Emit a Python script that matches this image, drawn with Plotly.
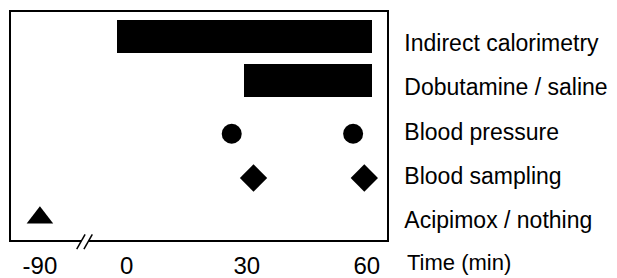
import plotly.graph_objects as go

# ---------------- data ----------------
categories = ["Indirect calorimetry", "Dobutamine / saline", "Blood pressure",
              "Blood sampling", "Acipimox / nothing"]
calorimetry_span = [-2.5, 61.25]      # start, end (min)
dobutamine_span = [29.25, 61.25]      # start, end (min)
blood_pressure_times = [26.25, 56.6]  # min
blood_sampling_times = [31.7, 59.4]   # min
acipimox_times = [-90]                # min
tick_values = [-90, 0, 30, 60]
tick_labels = ["-90", "0", "30", "60"]

# broken time axis: times before the break are shifted right
BREAK_SHIFT = 68.3
BREAK_AT = -10.4


def ax(t):
    return t + BREAK_SHIFT if t < -60 else t


FONT = "Liberation Sans, Arial, Helvetica, sans-serif"
BAR_SHIFT = -0.15   # bars sit slightly above their label line

fig = go.Figure()

# horizontal bars
for row, span in [(0, calorimetry_span), (1, dobutamine_span)]:
    fig.add_trace(go.Bar(
        y=[row], x=[ax(span[1]) - ax(span[0])], base=[ax(span[0])],
        orientation="h", width=0.75, offset=-0.375 + BAR_SHIFT,
        marker=dict(color="black", line=dict(width=0)),
        showlegend=False, hoverinfo="skip"))

fig.add_trace(go.Scatter(
    x=[ax(t) for t in blood_pressure_times], y=[2.05] * len(blood_pressure_times),
    mode="markers", marker=dict(symbol="circle", size=20, color="black"),
    showlegend=False))
fig.add_trace(go.Scatter(
    x=[ax(t) for t in blood_sampling_times], y=[3.05] * len(blood_sampling_times),
    mode="markers", marker=dict(symbol="diamond", size=21, color="black"),
    showlegend=False))
fig.add_trace(go.Scatter(
    x=[ax(t) for t in acipimox_times], y=[3.95] * len(acipimox_times),
    mode="markers", marker=dict(symbol="triangle-up", size=23, color="black"),
    showlegend=False))

# axis break marks
fig.add_shape(type="line", xref="x", yref="paper",
              x0=BREAK_AT - 1.0, x1=BREAK_AT + 0.8, y0=-0.003, y1=-0.003,
              line=dict(color="white", width=3))
for dx in [0.0, 1.8]:
    fig.add_shape(type="line", xref="x", yref="paper",
                  x0=BREAK_AT - 2.1 + dx, x1=BREAK_AT + dx, y0=-0.04, y1=0.025,
                  line=dict(color="black", width=1.5))

fig.add_annotation(text="Time (min)", xref="paper", yref="paper",
                   x=1.047, y=-0.10, xanchor="left", yanchor="middle",
                   showarrow=False, font=dict(family=FONT, size=22, color="black"))

# page body has an 8px margin, so the figure is sized to fit the window
fig.update_layout(
    width=609, height=270,
    margin=dict(l=3, r=230, t=4, b=38),
    paper_bgcolor="white", plot_bgcolor="white",
    bargap=0,
    font=dict(family=FONT, size=23, color="black"),
    xaxis=dict(range=[-28.93, 65.07], tickmode="array",
               tickvals=[ax(t) for t in tick_values], ticktext=tick_labels,
               showgrid=False, zeroline=False, showline=True, mirror=True,
               linecolor="black", linewidth=1.5, ticks="",
               ticklabelstandoff=3, automargin=False,
               tickfont=dict(family=FONT, size=24, color="black")),
    yaxis=dict(range=[4.45, -0.70], tickmode="array",
               tickvals=list(range(len(categories))), ticktext=categories,
               side="right", showgrid=False, zeroline=False, showline=True,
               mirror=True, linecolor="black", linewidth=1.5, ticks="",
               ticklabelstandoff=11, automargin=False,
               tickfont=dict(family=FONT, size=23, color="black")),
)

fig.write_html("out.html")
